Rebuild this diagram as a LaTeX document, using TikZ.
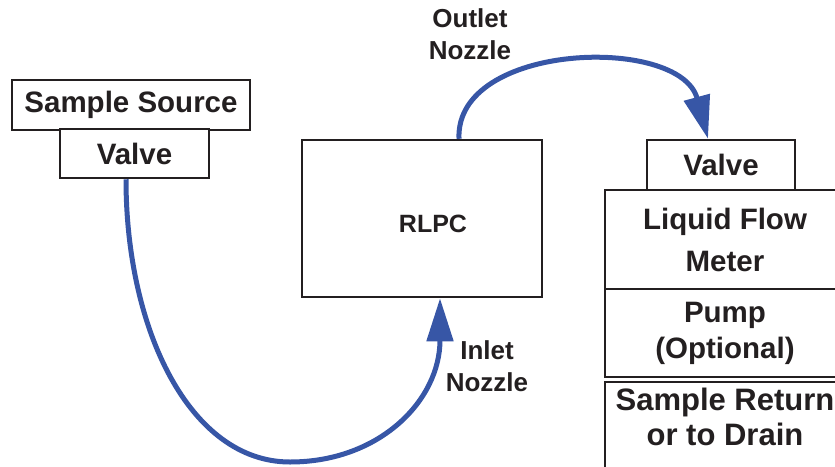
\documentclass[tikz,border=0pt]{standalone}
\usepackage{fontspec}
\setmainfont{Liberation Sans}
\usetikzlibrary{positioning}
\usetikzlibrary{calc}
\usetikzlibrary{arrows.meta}
\definecolor{flowblue}{RGB}{55,86,166}
\definecolor{inkblack}{RGB}{35,31,32}

\begin{document}
\begin{tikzpicture}[x=1pt, y=-1pt,
			box/.style={rectangle, draw=inkblack, line width=2.5pt, fill=white, text=inkblack, align=center, inner sep=0pt, font=\fontsize{29.5}{40}\selectfont\bfseries},
			label/.style={text=inkblack, align=center, font=\fontsize{26}{32}\selectfont\bfseries},
			flow/.style={draw=flowblue, line width=5pt, -{Triangle[length=43pt, width=26pt]}}
		]
			\useasboundingbox (0,0) rectangle (835,466);
			\clip (0,0) rectangle (835,466);

			% Boxes
			\node[box, minimum width=238pt, minimum height=50pt] (source) at (131,105) {Sample Source};
			\node[box, minimum width=149pt, minimum height=49pt] (valvein) at (134.5,153.5) {Valve};
			\node[box, minimum width=240pt, minimum height=157pt] (rlpc) at (422,218.5) {};
			\node[text=inkblack, font=\fontsize{25}{30}\selectfont\bfseries] (rlpctext) at (433,224) {RLPC};
			\node[box, minimum height=50pt, minimum width=148pt] (valveout) at (721,165) {Valve};
			\node[box, minimum width=240pt, minimum height=99pt, font=\fontsize{29.5}{42}\selectfont\bfseries, text depth=-6pt] (meter) at (725,239.5) {Liquid Flow\\Meter};
			\node[box, minimum width=240pt, minimum height=88pt, font=\fontsize{29.5}{36}\selectfont\bfseries] (pump) at (725,333) {Pump\\(Optional)};
			\node[box, minimum width=240pt, minimum height=98pt, font=\fontsize{31}{35}\selectfont\bfseries, text depth=28pt] (drain) at (725,431) {Sample Return\\or to Drain};

			% Labels
			\node[label] (outlet) at (470,34) {Outlet\\Nozzle};
			\node[label] (inlet) at (487,366) {Inlet\\Nozzle};

			% Arrows
			\draw[flow] ($(rlpc.north)+(37,0)$) .. controls (455,42) and (680,35) .. ($(valveout.north)+(-13,0)$);
			\draw[flow] (valvein.south -| 126,0) .. controls (126,330) and (190,462) .. (290,462)
				.. controls (380,462) and (440,400) .. ($(rlpc.south)+(18,0)$);
		\end{tikzpicture}
\end{document}
